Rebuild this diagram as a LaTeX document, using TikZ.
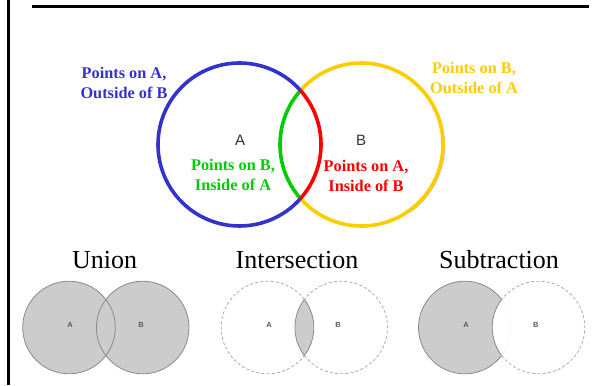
\documentclass[tikz,border=0pt]{standalone}
\usepackage{fontspec}
\usetikzlibrary{calc}
\setmainfont{Liberation Serif}
\setsansfont{Liberation Sans}
\definecolor{cblue}{HTML}{3333CC}
\definecolor{cyellow}{HTML}{FFCC00}
\definecolor{cgreen}{HTML}{00CC00}
\definecolor{cred}{HTML}{FF0000}
\definecolor{vfill}{HTML}{CCCCCC}
\definecolor{vline}{HTML}{8A8A8A}
\definecolor{vdash}{HTML}{ABABAB}
\begin{document}
\begin{tikzpicture}[x=1bp,y=-1bp,
  bigarc/.style={line width=3.6bp},
  pointlbl/.style={font=\fontsize{16.3bp}{20bp}\selectfont\bfseries, align=center, inner sep=0pt, anchor=base},
  biglbl/.style={font=\sffamily\fontsize{15bp}{18bp}\selectfont, text=black!80, inner sep=0pt, anchor=base},
  title/.style={font=\fontsize{26bp}{30bp}\selectfont, inner sep=0pt, anchor=base},
  smalllbl/.style={font=\sffamily\bfseries\fontsize{7.5bp}{8bp}\selectfont, text=black!65, inner sep=0pt, anchor=base},
  solidv/.style={draw=vline, line width=0.8bp},
  dashv/.style={draw=vdash, line width=0.8bp, dash pattern=on 3bp off 2.2bp}]
\useasboundingbox (0,0) rectangle (592,385);
% frame lines
\coordinate (tl) at (32,6.5); \coordinate (tr) at (589,6.5);
\coordinate (lt) at (8.7,0); \coordinate (lb) at (8.7,385);
\draw[line width=2.5bp] (tl) -- (tr);
\draw[line width=2.5bp] (lt) -- (lb);

% main circles
\coordinate (A) at (239.5,144.5);
\coordinate (B) at (361.5,144.5);
\draw[line width=1.6bp, black!30] ($(B)+(1.2,0.8)$) ++(-55:81.5bp) arc[start angle=-55, end angle=60, radius=81.5bp];
\draw[bigarc, cyellow] (B) ++(-138.5:81.5bp) arc[start angle=-138.5, end angle=138.5, radius=81.5bp];
\draw[bigarc, cgreen] (B) ++(138.5:81.5bp) arc[start angle=138.5, end angle=221.5, radius=81.5bp];
\draw[bigarc, cblue] (A) ++(41.5:81.5bp) arc[start angle=41.5, end angle=318.5, radius=81.5bp];
\draw[bigarc, cred] (A) ++(-41.5:81.5bp) arc[start angle=-41.5, end angle=41.5, radius=81.5bp];

\node[biglbl] (la) at (240,145) {A};
\node[biglbl] (lb2) at (361,145) {B};
\node[pointlbl, text=cblue] (p1) at (124,98) {Points on A,\\Outside of B};
\node[pointlbl, text=cyellow] (p2) at (474,93) {Points on B,\\Outside of A};
\node[pointlbl, text=cgreen] (p3) at (233,190) {Points on B,\\Inside of A};
\node[pointlbl, text=cred] (p4) at (366,191) {Points on A,\\Inside of B};

% titles
\node[title] (t1) at (104.5,268) {Union};
\node[title] (t2) at (297,268) {Intersection};
\node[title] (t3) at (499,268) {Subtraction};

% Union
\coordinate (UA) at (69,327.5); \coordinate (UB) at (142.7,327.5);
\fill[vfill] (UA) circle[radius=46.3bp];
\fill[vfill] (UB) circle[radius=46.3bp];
\draw[solidv] (UA) circle[radius=46.3bp];
\draw[solidv] (UB) circle[radius=46.3bp];
\node[smalllbl] (ua) at (70,327) {A};
\node[smalllbl] (ub) at (141,327) {B};

% Intersection
\coordinate (IA) at (267.5,327.5); \coordinate (IB) at (341.2,327.5);
\begin{scope}
\clip (IA) circle[radius=46.3bp];
\fill[vfill] (IB) circle[radius=46.3bp];
\end{scope}
\draw[dashv] (IA) ++(37.25:46.3bp) arc[start angle=37.25, end angle=322.75, radius=46.3bp];
\draw[dashv] (IB) ++(-142.75:46.3bp) arc[start angle=-142.75, end angle=142.75, radius=46.3bp];
\draw[solidv] (IA) ++(-37.25:46.3bp) arc[start angle=-37.25, end angle=37.25, radius=46.3bp];
\draw[solidv] (IB) ++(142.75:46.3bp) arc[start angle=142.75, end angle=217.25, radius=46.3bp];
\node[smalllbl] (ia) at (269,327) {A};
\node[smalllbl] (ib) at (338,327) {B};

% Subtraction
\coordinate (SA) at (464.8,327.5); \coordinate (SB) at (538.5,327.5);
\begin{scope}
\clip (SA) circle[radius=46.3bp];
\fill[vfill, even odd rule] (SA) circle[radius=46.3bp] (SB) circle[radius=46.3bp];
\end{scope}
\draw[solidv] (SA) ++(37.25:46.3bp) arc[start angle=37.25, end angle=322.75, radius=46.3bp];
\draw[solidv] (SB) ++(142.75:46.3bp) arc[start angle=142.75, end angle=217.25, radius=46.3bp];
\draw[dashv] (SB) ++(-142.75:46.3bp) arc[start angle=-142.75, end angle=142.75, radius=46.3bp];
\node[smalllbl] (sa) at (466,327) {A};
\node[smalllbl] (sb) at (535.7,327) {B};
\end{tikzpicture}
\end{document}
